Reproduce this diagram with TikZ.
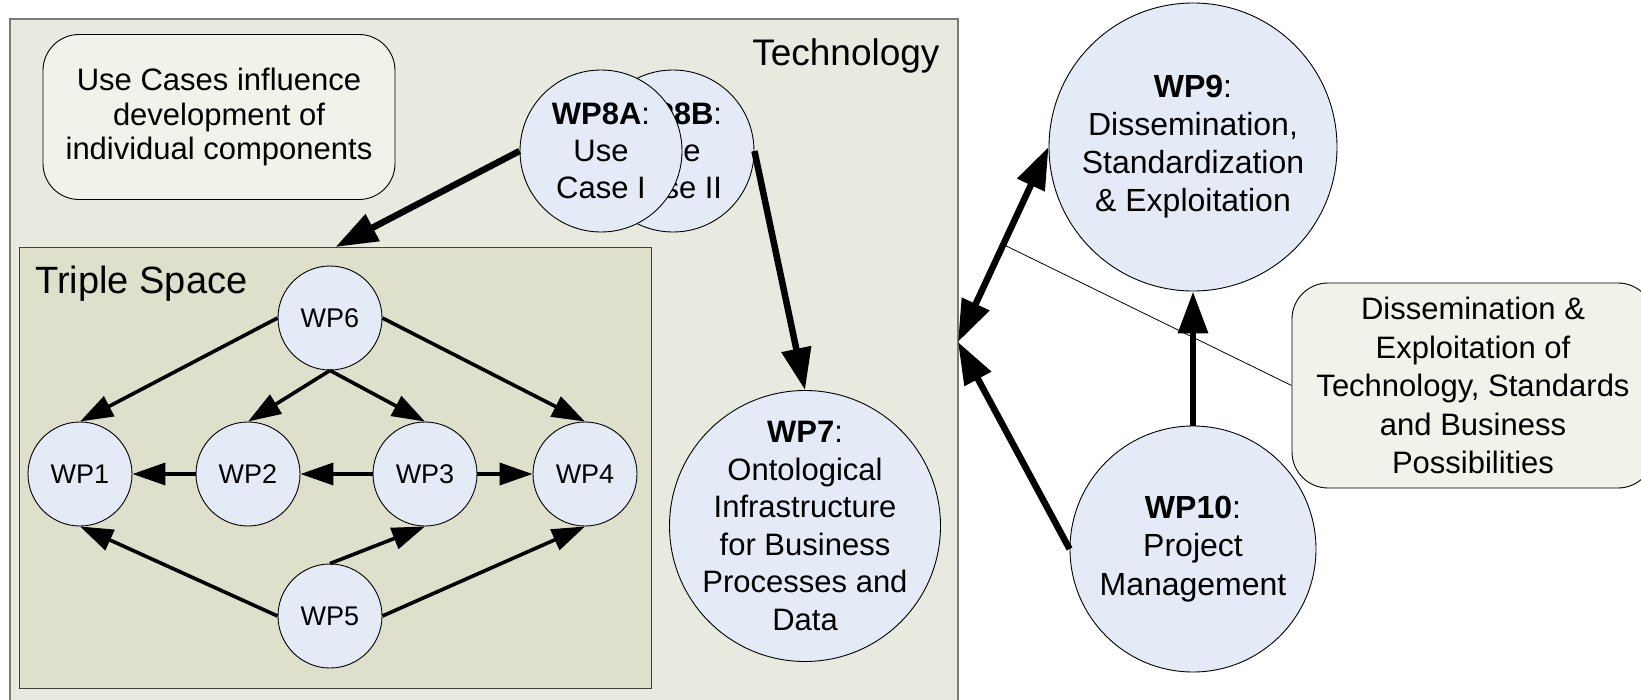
\documentclass[tikz,border=0pt]{standalone}
\usepackage{fontspec}
\setmainfont{Liberation Sans}
\usetikzlibrary{arrows.meta,calc}
\definecolor{techfill}{HTML}{E9EADF}
\definecolor{tsfill}{HTML}{DEE0CB}
\definecolor{circfill}{HTML}{E4EAF6}
\definecolor{notefill}{HTML}{F1F2EA}
\definecolor{techborder}{HTML}{7A7A7A}
\begin{document}
\begin{tikzpicture}[x=1pt,y=-1pt,
  wp/.style={circle,draw=black,line width=0.9pt,fill=circfill,inner sep=-40pt,align=center,text=black},
  smallwp/.style={wp,minimum size=104pt,font=\fontsize{27}{32}\selectfont},
  notebox/.style={draw=black,line width=0.9pt,fill=notefill,rounded corners=36pt,inner sep=0pt,align=center},
  thinarrow/.style={line width=3.6pt,-{Triangle[length=33pt,width=22pt]}},
  thickarrow/.style={line width=6.5pt,-{Triangle[length=42pt,width=29pt]}},
  thickdouble/.style={line width=6.5pt,{Triangle[length=42pt,width=29pt]}-{Triangle[length=42pt,width=29pt]}},
  leader/.style={line width=0.8pt,draw=black}]
\useasboundingbox (0,0) rectangle (1641,699);
\fill[white] (0,0) rectangle (1641,699);
% Technology box
\draw[draw=techborder,line width=1.5pt,fill=techfill] (10,19) rectangle (958,730);
\node[anchor=base east,font=\fontsize{37}{44}\selectfont] (techlabel) at (943,65) {Technology};
\coordinate (hub) at (958,342);
% Use cases note
\node[notebox,minimum width=352pt,minimum height=165pt,font=\fontsize{31}{34.5}\selectfont] (usenote) at (219,117)
  {Use Cases influence\\development of\\individual components};
% Triple Space box
\node[draw=black!75,line width=1pt,fill=tsfill,minimum width=632pt,minimum height=441pt,anchor=north west,inner sep=0pt] (ts) at (19,247) {};
\node[anchor=base west,font=\fontsize{38}{44}\selectfont] (tslabel) at (32,293) {Triple Space};
% small WPs
\node[smallwp] (wp6) at (330,318) {WP6};
\node[smallwp] (wp1) at (80,474) {WP1};
\node[smallwp] (wp2) at (248,474) {WP2};
\node[smallwp] (wp3) at (425,474) {WP3};
\node[smallwp] (wp4) at (585,474) {WP4};
\node[smallwp] (wp5) at (330,616) {WP5};
% WP8
\node[wp,minimum size=162pt,font=\fontsize{31}{37}\selectfont] (wp8b) at (673,151) {\textbf{WP8B}:\\Use\\Case II};
\node[wp,minimum size=162pt,font=\fontsize{31}{37}\selectfont] (wp8a) at (601,151) {\textbf{WP8A}:\\Use\\Case I};
% WP7
\node[wp,minimum size=271pt,font=\fontsize{31}{37.5}\selectfont] (wp7) at (805,526)
  {\textbf{WP7}:\\Ontological\\Infrastructure\\for Business\\Processes and\\Data};
% WP9, WP10
\node[wp,minimum size=288pt,font=\fontsize{32}{38}\selectfont] (wp9) at (1193,147)
  {\textbf{WP9}:\\Dissemination,\\Standardization\\\& Exploitation};
\node[wp,minimum size=246pt,font=\fontsize{32}{38.5}\selectfont] (wp10) at (1193,549)
  {\textbf{WP10}:\\Project\\Management};
% right note
\node[notebox,minimum width=362pt,minimum height=205pt,font=\fontsize{31}{38.5}\selectfont] (rnote) at (1473,385.5)
  {Dissemination \&\\Exploitation of\\Technology, Standards\\and Business\\Possibilities};
% connectors inside triple space
\draw[thinarrow] (wp6.west) -- (wp1.north);
\draw[thinarrow] (wp6.south) -- (wp2.north);
\draw[thinarrow] (wp6.south) -- (wp3.north);
\draw[thinarrow] (wp6.east) -- (wp4.north);
\draw[thinarrow] (wp2.west) -- (wp1.east);
\draw[thinarrow] (wp3.west) -- (wp2.east);
\draw[thinarrow] (wp3.east) -- (wp4.west);
\draw[thinarrow] (wp5.west) -- (wp1.south);
\draw[thinarrow] (wp5.north) -- (wp3.south);
\draw[thinarrow] (wp5.east) -- (wp4.south);
% thick connectors
\draw[thickarrow] (wp8a.west) -- (ts.north);
\draw[thickarrow] (wp8b.east) -- (wp7.north);
\draw[thickdouble] (hub) -- (wp9.west);
\draw[thickarrow] (wp10.west) -- (hub);
\draw[thickarrow] (wp10.north) -- (wp9.south);
\coordinate (leadstart) at ($(hub)!0.5!(wp9.west)$);
\draw[leader] (leadstart) -- (rnote.west);
\end{tikzpicture}
\end{document}
